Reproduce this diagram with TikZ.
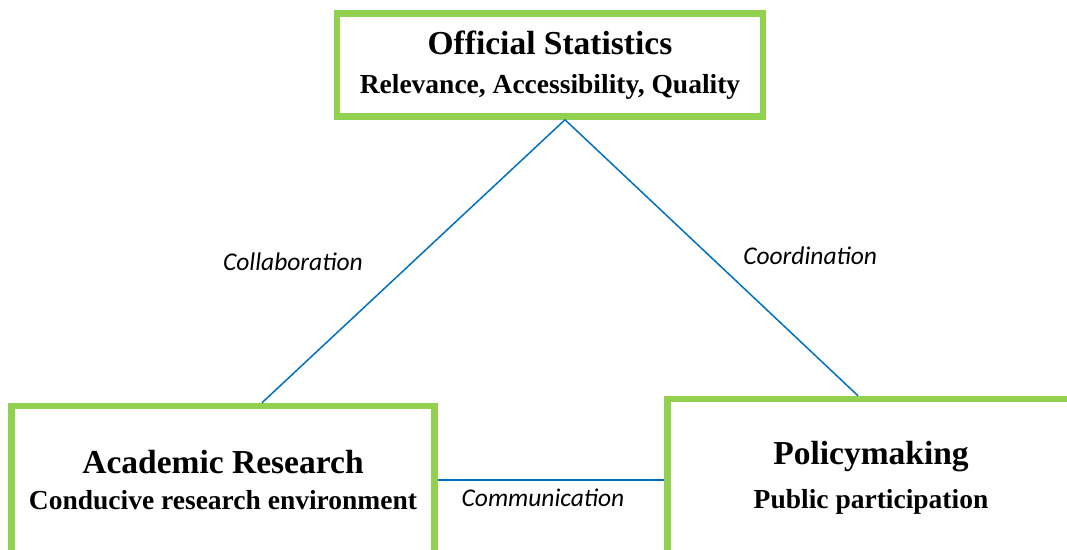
\documentclass[tikz,border=0pt]{standalone}
\usepackage{fontspec}
\setmainfont{Liberation Serif}
\newfontfamily\labelfont{Carlito}
\usetikzlibrary{positioning}
\definecolor{boxgreen}{HTML}{92D050}
\definecolor{linkblue}{HTML}{0070C0}
\newcommand{\titlesize}{\fontsize{33.5}{38}\selectfont}
\newcommand{\subsize}{\fontsize{27.5}{38}\selectfont}
\tikzstyle{pillar} = [draw=boxgreen, line width=6.5pt, fill=white, align=center, font=\bfseries]
\tikzset{
  link/.style ={draw=linkblue, line width=1.5pt},
  tag/.style ={inner sep=0pt, font=\labelfont\itshape\fontsize{25.5}{30}\selectfont}
}

\begin{document}
\begin{tikzpicture}[x=1pt,y=1pt]
	\useasboundingbox (0,0) rectangle (1067,549);
	\clip (0,0) rectangle (1067,549);
	\node[pillar, minimum width=426pt, minimum height=103pt] (official) at (550,484) {\titlesize Official Statistics\\[18pt] \subsize Relevance, Accessibility, Quality};
	\node[pillar, minimum width=423pt, minimum height=148pt] (academic) at (223,69) {\titlesize Academic Research\\[16pt] \subsize Conducive research environment};
	\node[pillar, minimum width=407pt, minimum height=158pt] (policy) at (871,71) {\titlesize Policymaking\\[17pt] \subsize Public participation};
	% links between the three pillars
	\draw[link] ([xshift=15pt]official.south) -- node[tag, left=50pt] (collab) {Collaboration} ([xshift=39pt]academic.north);
	\draw[link] ([xshift=15pt]official.south) -- node[tag, right=31pt, yshift=2pt] (coord) {Coordination} ([xshift=-13pt]policy.north);
	\draw[link] (academic.east) -- node[tag, below=8pt, xshift=-8pt] (comm) {Communication} ([yshift=-2pt]policy.west);
\end{tikzpicture}
\end{document}
